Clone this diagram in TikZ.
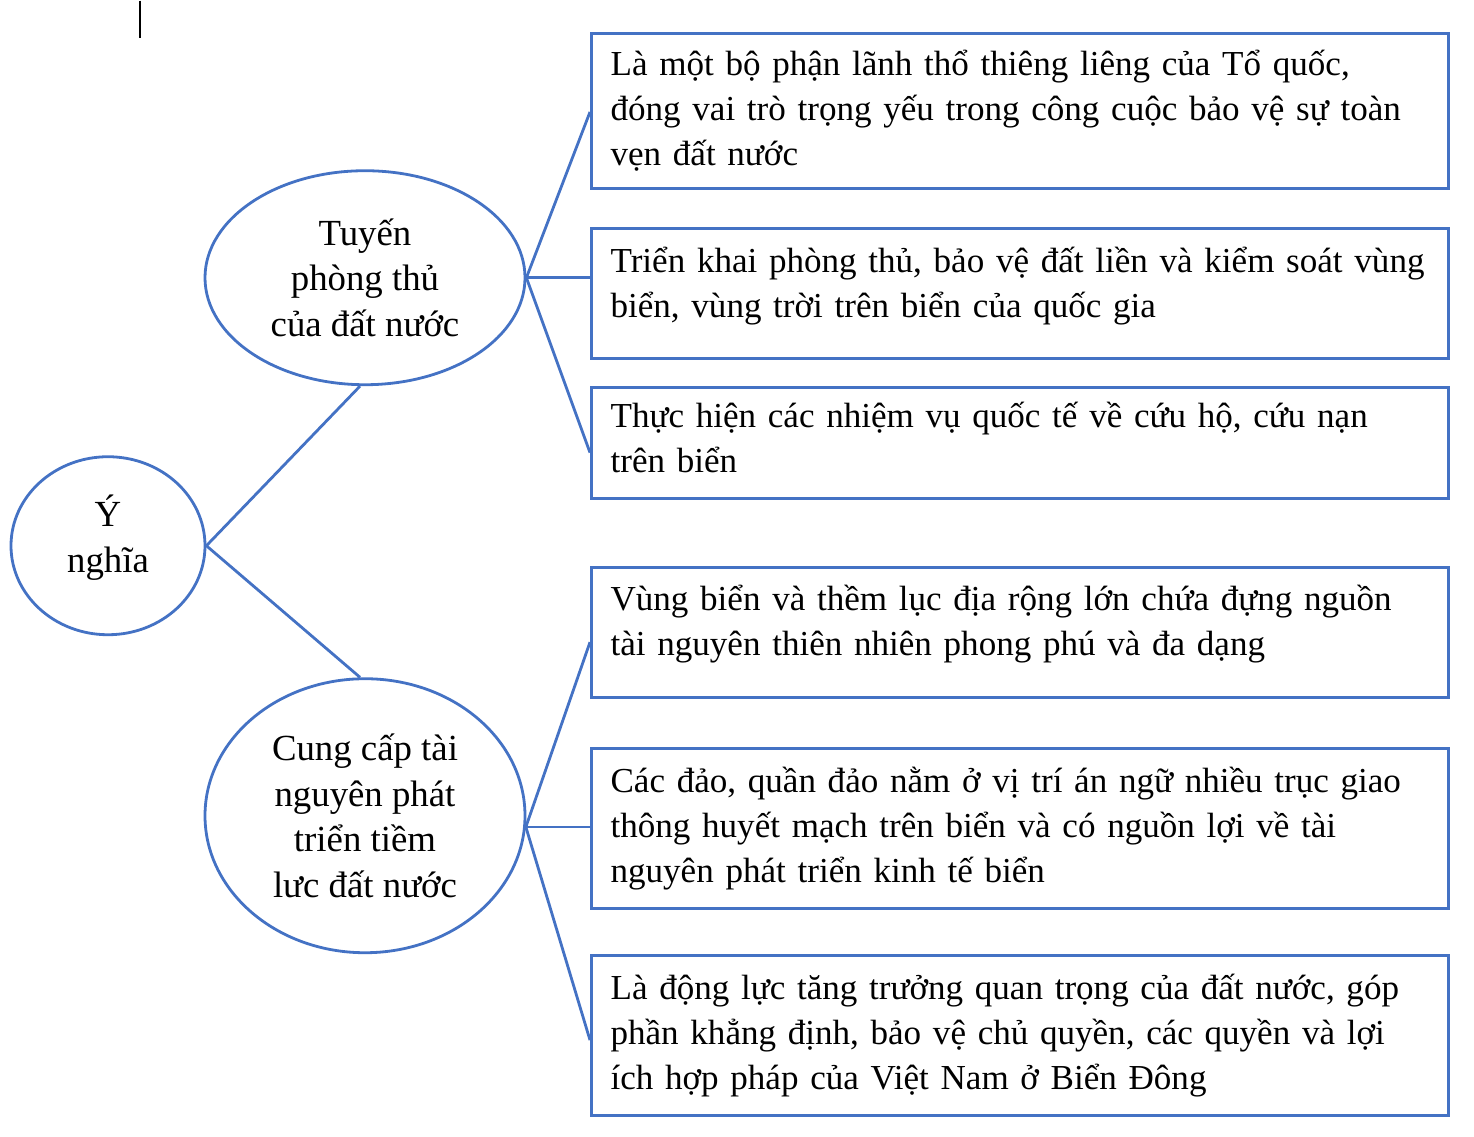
\documentclass[tikz,border=0pt]{standalone}
\usepackage{fontspec}
\setmainfont{Liberation Serif}
\usetikzlibrary{shapes.geometric}

\newcommand{\boxsize}{\fontsize{26.3pt}{33.75pt}\selectfont}
\newcommand{\topicsize}{\fontsize{27.6pt}{34.2pt}\selectfont}
\definecolor{mapblue}{RGB}{68,114,196}
\tikzset{every picture/.style={line width=0.75pt}}
\tikzset{
  infobox/.style={draw=mapblue, line width=2.1pt, anchor=north west, minimum width=642.75pt,
    text width=614pt, inner xsep=14.4pt, align=left, font=\boxsize},
  topic/.style={draw=mapblue, line width=2.1pt, ellipse, inner sep=0pt, align=center, font=\topicsize},
  branch/.style={draw=mapblue, line width=2.1pt}
}

\begin{document}
\begin{tikzpicture}[x=0.75pt,y=0.75pt,yscale=-1,xscale=1]
\path (0,0) rectangle (1474,1136); %set diagram frame

%Shape: small mark top left
\draw [line width=1.1pt] (140,0) -- (140,37) ;

% Ellipse nodes
\node [topic, minimum width=145.5pt, minimum height=133.5pt, text depth=18pt] (yn) at (108,545) {Ý\\nghĩa};
\node [topic, minimum width=240pt, minimum height=160.5pt] (tuyen) at (365,277) {Tuyến\\phòng thủ\\của đất nước};
\node [topic, minimum width=240pt, minimum height=205.5pt] (cungcap) at (365,815) {Cung cấp tài\\nguyên phát\\triển tiềm\\lưc đất nước};

% Text boxes
\node [infobox, minimum height=116.25pt] (b1) at (590,31) {Là một bộ phận lãnh thổ thiêng liêng của Tổ quốc,\\đóng vai trò trọng yếu trong công cuộc bảo vệ sự toàn\\vẹn đất nước};
\node [infobox, minimum height=97.5pt, text depth=50pt] (b2) at (590,226) {Triển khai phòng thủ, bảo vệ đất liền và kiểm soát vùng\\biển, vùng trời trên biển của quốc gia};
\node [infobox, minimum height=83.25pt, text depth=41.3pt] (b3) at (590,385) {Thực hiện các nhiệm vụ quốc tế về cứu hộ, cứu nạn\\trên biển};
\node [infobox, minimum height=97.5pt, text depth=51.5pt] (b4) at (590,565) {Vùng biển và thềm lục địa rộng lớn chứa đựng nguồn\\tài nguyên thiên nhiên phong phú và đa dạng};
\node [infobox, minimum height=120pt] (b5) at (590,746) {Các đảo, quần đảo nằm ở vị trí án ngữ nhiều trục giao\\thông huyết mạch trên biển và có nguồn lợi về tài\\nguyên phát triển kinh tế biển};
\node [infobox, minimum height=120pt] (b6) at (590,953) {Là động lực tăng trưởng quan trọng của đất nước, góp\\phần khẳng định, bảo vệ chủ quyền, các quyền và lợi\\ích hợp pháp của Việt Nam ở Biển Đông};

% Straight Lines
\draw [branch] (yn.east) -- ([xshift=-3.75pt]tuyen.south) ;
\draw [branch] (yn.east) -- ([xshift=-3.75pt]cungcap.north) ;
\draw [branch] (tuyen.east) -- ([yshift=1pt]b1.west) ;
\draw [branch] (tuyen.east) -- (b2.west |- tuyen.east) ;
\draw [branch] (tuyen.east) -- ([yshift=7.5pt]b3.west) ;
\draw [branch] (cungcap.-4) -- ([yshift=7.5pt]b4.west) ;
\draw [branch] (cungcap.-4) -- (b5.west |- cungcap.-4) ;
\draw [branch] (cungcap.-4) -- ([yshift=3.75pt]b6.west) ;

\end{tikzpicture}
\end{document}
